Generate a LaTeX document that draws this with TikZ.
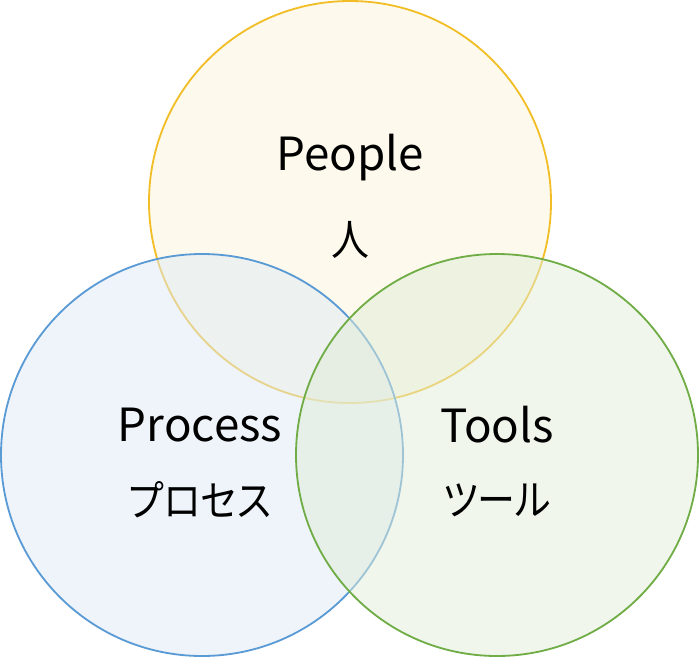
\documentclass[tikz,border=0pt]{standalone}
\usepackage{fontspec}
\setmainfont{Noto Sans CJK JP}[RawFeature=+palt]
\usetikzlibrary{positioning}
\definecolor{peoplegold}{RGB}{242,190,40}
\definecolor{peoplefill}{RGB}{251,243,217}
\definecolor{processblue}{RGB}{91,155,213}
\definecolor{processfill}{RGB}{221,233,245}
\definecolor{toolsgreen}{RGB}{112,173,71}
\definecolor{toolsfill}{RGB}{225,237,215}

\begin{document}
\begin{tikzpicture}[
    ring/.style={circle,minimum size=10.05cm,inner sep=0pt,outer sep=0pt,line width=1.3pt,fill opacity=0.5},
    peoplering/.style={ring,draw=peoplegold,fill=peoplefill},
    processring/.style={ring,draw=processblue,fill=processfill},
    toolsring/.style={ring,draw=toolsgreen,fill=toolsfill},
    word/.style={font=\fontsize{32.5}{36}\selectfont,text=black,inner sep=0pt},
    kana/.style={font=\fontsize{30}{36}\selectfont,text=black,inner sep=0pt,xscale=0.9,transform shape}
  ]
    \useasboundingbox (0,0) rectangle (17.5,-16.425);

    \node[peoplering] (people) at (8.75,-5.05) {};
    \node[processring] (process) at (5.05,-11.375) {};
    \node[toolsring] (tools) at (12.425,-11.375) {};

    \node[word] (peopleen) at (8.75,-3.95) {People};
    \node[kana] (peopleja) at (8.75,-6.0) {人};
    \node[word] (processen) at (5.0,-10.62) {Process};
    \node[kana] (processja) at (5.0,-12.5) {プロセス};
    \node[word] (toolsen) at (12.425,-10.62) {Tools};
    \node[kana] (toolsja) at (12.425,-12.5) {ツール};
  \end{tikzpicture}
\end{document}
